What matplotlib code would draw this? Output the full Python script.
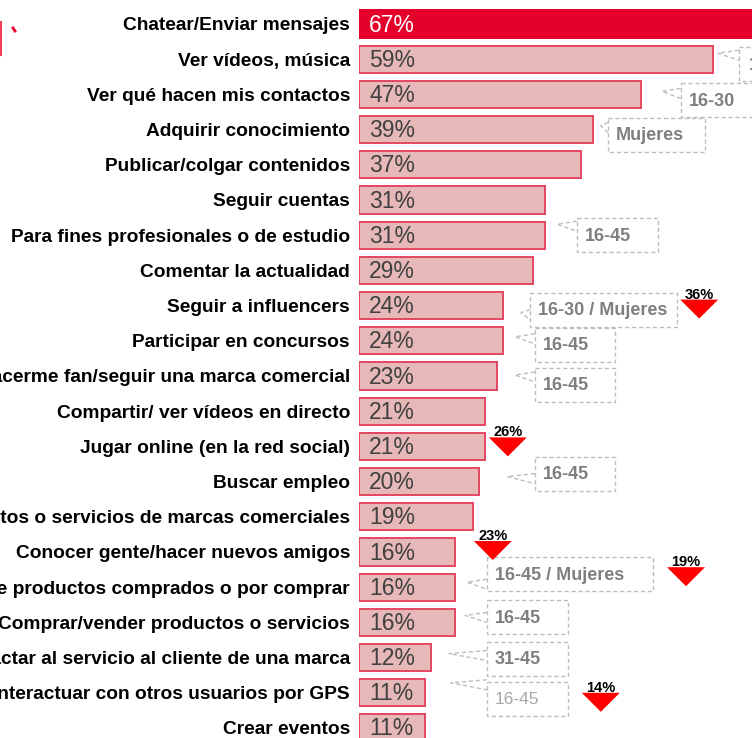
import numpy as np
import matplotlib.pyplot as plt
from matplotlib.patches import Rectangle, Polygon
from matplotlib.lines import Line2D

plt.rcParams['font.family'] = ['Liberation Sans', 'DejaVu Sans']

# -- datos -- #
categorias = [
    "Chatear/Enviar mensajes",
    "Ver vídeos, música",
    "Ver qué hacen mis contactos",
    "Adquirir conocimiento",
    "Publicar/colgar contenidos",
    "Seguir cuentas",
    "Para fines profesionales o de estudio",
    "Comentar la actualidad",
    "Seguir a influencers",
    "Participar en concursos",
    "Hacerme fan/seguir una marca comercial",
    "Compartir/ ver vídeos en directo",
    "Jugar online (en la red social)",
    "Buscar empleo",
    "Informarse sobre productos o servicios de marcas comerciales",
    "Conocer gente/hacer nuevos amigos",
    "Informarse de productos comprados o por comprar",
    "Comprar/vender productos o servicios",
    "Contactar al servicio al cliente de una marca",
    "Interactuar con otros usuarios por GPS",
    "Crear eventos",
]
valores = [67, 59, 47, 39, 37, 31, 31, 29, 24, 24, 23, 21, 21, 20, 19, 16, 16, 16, 12, 11, 11]

# perfiles destacados (fila, texto)
perfil_filas = [1, 2, 3, 6, 8, 9, 10, 13, 16, 17, 18, 19]
perfil_textos = ["16-30", "16-30", "Mujeres", "16-45", "16-30 / Mujeres", "16-45",
                 "16-45", "16-45", "16-45 / Mujeres", "16-45", "31-45", "16-45"]

# valores maximos en el perfil (triangulos)
max_filas = [8, 12, 15, 16, 19]
max_valores = [36, 26, 23, 19, 14]

# -- layout (pixeles -> unidades de datos) -- #
PXX = 1 / 6.0      # % por pixel
PXY = 1 / 35.2     # filas por pixel

caja_x = [63.3, 53.6, 41.5, 36.3, 28.5, 29.3, 29.3, 29.3, 21.3, 21.3, 21.3, 21.3]
caja_w = [100, 100, 97, 81, 147, 80, 80, 80, 166, 81, 81, 81]
caja_top = [-12, -11, -12, -17, -13, -13, -8, -25, -30, -22, -16, -11]
caja_pad = [10, 8, 8, 8, 8, 8, 8, 8, 8, 8, 8, 8]
punta_x = [59.8, 50.5, 40.3, 33.0, 27.0, 26.0, 26.0, 24.7, 18.0, 17.7, 15.0, 15.3]
punta_dy = [-6, -3, -4, -11, 7, -4, -1, -5, -5, -7, -4, -10]

tri_x = [56.7, 24.8, 22.3, 54.5, 40.3]
tri_top = [-6, -9, -11, -20, 0]

fig = plt.figure(figsize=(7.52, 7.38), dpi=100)
ax = fig.add_axes([359 / 752, 0, 1 - 359 / 752, 1])

filas = np.arange(len(categorias))
colores = ['#E4002B'] + ['#E6B8B8'] * (len(valores) - 1)
bordes = ['#E4002B'] + ['#E54560'] * (len(valores) - 1)
ax.barh(filas, valores, height=0.77, color=colores, edgecolor=bordes, linewidth=1.4)

for i, v in enumerate(valores):
    ax.text(10 * PXX, i + 1 * PXY, f"{v}%", va='center', ha='left', fontsize=16.5,
            color='white' if i == 0 else '#404040', clip_on=True)

# cajas de perfil
for k, fila in enumerate(perfil_filas):
    x0 = caja_x[k]
    w = caja_w[k] * PXX
    y0 = fila + caja_top[k] * PXY
    h = 34 * PXY
    ax.add_patch(Rectangle((x0, y0), w, h, fill=False, edgecolor='#BDBDBD',
                           linestyle=(0, (3, 2)), linewidth=1.0))
    py = fila + punta_dy[k] * PXY
    ax.plot([x0, punta_x[k], x0], [py - 3 * PXY, py, py + 7 * PXY],
            color='#BDBDBD', linestyle=(0, (3, 2)), linewidth=1.0)
    fino = (k == len(perfil_filas) - 1)
    ax.text(x0 + caja_pad[k] * PXX, y0 + h / 2 + 1 * PXY, perfil_textos[k], va='center', ha='left',
            fontsize=12.5 if fino else 13, fontweight='normal' if fino else 'bold',
            color='#A8A8A8' if fino else '#7F7F7F', clip_on=True)

# triangulos
for k, fila in enumerate(max_filas):
    top = fila + tri_top[k] * PXY
    cx = tri_x[k]
    ax.add_patch(Polygon([[cx - 19 * PXX, top], [cx + 19 * PXX, top], [cx, top + 19 * PXY]],
                         closed=True, color='#FF0000', linewidth=0))
    ax.text(cx, top - 1 * PXY, f"{max_valores[k]}%", ha='center', va='baseline',
            fontsize=10.5, fontweight='bold', color='black')

# restos de la diapositiva original (esquina superior izquierda)
fig.add_artist(Line2D([0.5 / 752, 0.5 / 752], [1 - 22 / 738, 1 - 55 / 738],
                      color='#F0405E', linewidth=1.5))
fig.add_artist(Line2D([13 / 752, 15 / 752], [1 - 28 / 738, 1 - 31 / 738],
                      color='#E4002B', linewidth=2))

ax.set_xlim(0, (752 - 359) * PXX)
ax.set_ylim((738 - 24) * PXY, -24 * PXY)
ax.set_yticks(filas)
ax.set_yticklabels(categorias, fontsize=13.8, fontweight='bold')
ax.tick_params(axis='y', length=0, pad=6.5)
ax.set_xticks([])
for s in ax.spines.values():
    s.set_visible(False)

plt.savefig("out.png", dpi=100)
plt.close()
